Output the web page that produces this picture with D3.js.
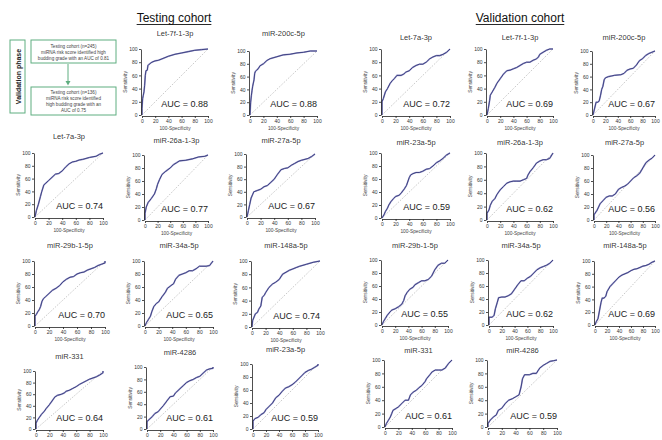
<!DOCTYPE html>
<html>
<head>
<meta charset="utf-8">
<script src="https://cdn.jsdelivr.net/npm/d3@7"></script>
<style>
  body { margin: 0; background: #fff; }
  svg { font-family: "Liberation Sans", Arial, sans-serif; }
</style>
</head>
<body>
<svg id="chart"></svg>
<script>
// ---- data: ROC points as [100-specificity, sensitivity] ----
const ticks = [0, 20, 40, 60, 80, 100];

const testingNames = ["Let-7f-1-3p", "miR-200c-5p", "Let-7a-3p", "miR-26a-1-3p", "miR-27a-5p",
  "miR-29b-1-5p", "miR-34a-5p", "miR-148a-5p", "miR-331", "miR-4286", "miR-23a-5p"];
const testingAUC = ["0.88", "0.88", "0.74", "0.77", "0.67", "0.70", "0.65", "0.74", "0.64", "0.61", "0.59"];

const validationNames = ["Let-7a-3p", "Let-7f-1-3p", "miR-200c-5p", "miR-23a-5p", "miR-26a-1-3p",
  "miR-27a-5p", "miR-29b-1-5p", "miR-34a-5p", "miR-148a-5p", "miR-331", "miR-4286"];
const validationAUC = ["0.72", "0.69", "0.67", "0.59", "0.62", "0.56", "0.55", "0.62", "0.69", "0.61", "0.59"];

const tLet7f = [[0,0],[0,10],[1,25],[2,30],[3,35],[4,45],[5,60],[6,67],[8,68],[9,75],[11,77],[15,80],[20,82],[25,83],[30,85],[40,89],[50,92],[60,94],[70,96],[80,98],[90,99],[100,100]];
const tMiR200c = [[0,0],[1,20],[2,30],[3,38],[4,45],[6,55],[7,65],[8,68],[10,70],[12,72],[15,77],[20,80],[25,85],[30,88],[40,91],[50,94],[60,95],[70,97],[80,98],[90,100],[100,100]];
const tLet7a = [[0,0],[2,10],[5,20],[8,32],[10,40],[13,50],[16,53],[20,57],[25,62],[30,67],[35,68],[40,72],[45,78],[50,83],[55,86],[60,87],[65,89],[70,90],[80,93],[90,95],[95,98],[100,100]];
const tMiR26a = [[0,0],[0,10],[2,20],[5,27],[10,33],[15,40],[18,48],[20,55],[23,62],[27,70],[33,75],[40,80],[45,85],[50,88],[55,91],[65,92],[75,94],[85,97],[95,98],[100,100]];
const tMiR27a = [[0,0],[2,10],[4,20],[6,30],[8,35],[10,40],[15,42],[20,44],[25,48],[30,50],[35,55],[40,60],[45,68],[50,75],[55,77],[60,78],[65,82],[70,85],[75,88],[80,90],[90,93],[95,96],[100,100]];
const tMiR29b = [[0,0],[0,15],[2,18],[4,22],[6,25],[8,30],[10,38],[12,42],[15,45],[20,50],[25,55],[30,58],[35,62],[40,68],[45,72],[50,75],[55,76],[60,80],[65,82],[70,83],[75,86],[80,88],[85,90],[90,93],[95,95],[100,97],[100,100]];
const tMiR34a = [[0,0],[2,5],[5,10],[8,15],[10,22],[13,30],[17,35],[20,37],[25,45],[30,52],[33,58],[38,62],[42,65],[45,72],[50,78],[55,80],[60,82],[65,85],[70,85],[75,88],[80,92],[90,92],[95,93],[100,100]];
const tMiR148a = [[0,0],[1,10],[3,15],[5,20],[8,22],[10,27],[13,32],[15,45],[18,48],[20,52],[25,60],[30,65],[35,68],[40,72],[45,80],[50,83],[55,86],[60,88],[65,90],[70,92],[80,95],[90,98],[100,100]];
const tMiR331 = [[0,0],[0,10],[2,15],[5,20],[8,25],[12,30],[15,35],[20,42],[25,50],[28,55],[32,58],[38,60],[42,62],[45,65],[50,67],[55,70],[60,73],[65,77],[70,80],[75,83],[80,86],[85,88],[90,90],[95,93],[100,97],[100,100]];
const tMiR4286 = [[0,0],[0,12],[3,15],[8,20],[12,25],[17,28],[20,32],[25,38],[30,45],[35,52],[40,53],[43,58],[47,62],[50,65],[55,70],[60,75],[65,78],[70,80],[75,83],[80,85],[85,90],[90,95],[95,97],[100,98],[100,100]];
const tMiR23a = [[0,0],[0,12],[3,16],[8,18],[12,22],[17,25],[20,30],[25,35],[30,40],[35,48],[40,52],[45,58],[50,63],[55,65],[60,68],[65,72],[70,77],[75,82],[80,87],[85,90],[90,92],[95,95],[100,98],[100,100]];

const vLet7a = [[0,0],[0,20],[2,25],[5,35],[8,40],[12,48],[15,52],[18,55],[22,60],[28,60],[32,62],[35,65],[40,67],[45,72],[50,75],[55,77],[60,77],[65,80],[70,85],[75,88],[80,90],[85,90],[90,92],[95,95],[100,100]];
const vLet7f = [[0,0],[2,10],[4,22],[5,30],[8,35],[12,42],[15,48],[20,55],[25,62],[30,67],[35,68],[40,70],[45,72],[50,75],[55,78],[60,80],[65,80],[70,83],[75,85],[78,88],[80,92],[85,95],[90,98],[95,100],[100,100]];
const vMiR200c = [[0,0],[5,20],[8,20],[10,22],[12,30],[14,40],[16,45],[18,55],[20,58],[25,60],[30,61],[35,62],[45,63],[50,65],[55,70],[60,72],[65,73],[70,78],[75,85],[80,88],[85,93],[90,96],[95,98],[100,100]];
const vMiR23a = [[0,0],[3,5],[5,10],[8,15],[10,20],[13,25],[17,30],[20,33],[25,35],[28,38],[33,45],[36,50],[40,62],[42,66],[45,68],[50,70],[55,70],[60,72],[65,75],[70,76],[75,80],[80,85],[85,88],[90,92],[95,97],[100,100]];
const vMiR26a = [[0,0],[0,10],[3,15],[5,22],[8,28],[12,32],[15,38],[20,45],[25,50],[30,55],[35,57],[40,58],[45,58],[50,58],[55,60],[60,62],[62,67],[65,72],[70,78],[75,85],[80,88],[85,90],[90,90],[95,92],[100,100]];
const vMiR27a = [[0,0],[0,8],[5,15],[10,25],[15,30],[20,35],[25,37],[30,37],[35,40],[40,47],[45,50],[50,52],[55,55],[60,60],[65,65],[70,68],[75,72],[80,80],[85,88],[90,92],[95,95],[100,100]];
const vMiR29b = [[0,0],[2,5],[5,10],[8,15],[12,20],[15,23],[20,25],[25,28],[30,32],[33,38],[35,45],[38,50],[42,55],[47,58],[50,62],[55,65],[60,68],[65,68],[70,70],[75,75],[80,85],[85,92],[90,95],[95,95],[100,100]];
const vMiR34a = [[0,0],[0,12],[5,12],[8,15],[10,25],[13,35],[15,42],[20,43],[25,43],[30,45],[35,48],[40,55],[45,62],[50,68],[55,68],[60,72],[65,75],[70,80],[75,85],[80,88],[85,90],[90,92],[95,95],[100,100]];
const vMiR148a = [[0,0],[2,5],[5,10],[8,25],[10,35],[12,42],[15,42],[18,45],[20,52],[25,60],[30,65],[35,70],[40,75],[45,78],[50,80],[55,82],[60,85],[65,87],[70,88],[75,90],[80,92],[85,93],[90,95],[95,98],[100,100]];
const vMiR331 = [[0,0],[2,5],[5,10],[8,15],[10,20],[12,25],[17,28],[20,30],[25,35],[30,40],[35,40],[38,48],[42,52],[47,55],[50,58],[55,62],[60,68],[62,72],[67,78],[70,82],[75,85],[80,85],[85,85],[90,88],[95,95],[100,100]];
const vMiR4286 = [[0,0],[0,5],[3,10],[8,15],[12,18],[15,25],[20,28],[25,35],[30,40],[35,42],[40,45],[45,48],[48,60],[50,72],[53,78],[60,78],[65,80],[70,80],[75,88],[80,92],[85,95],[90,98],[95,99],[100,100]];

const testingCurves = [tLet7f, tMiR200c, tLet7a, tMiR26a, tMiR27a, tMiR29b, tMiR34a, tMiR148a, tMiR331, tMiR4286, tMiR23a];
const validationCurves = [vLet7a, vLet7f, vMiR200c, vMiR23a, vMiR26a, vMiR27a, vMiR29b, vMiR34a, vMiR148a, vMiR331, vMiR4286];

const flowTop = ["Testing cohort (n=245)", "miRNA risk score identified high", "budding grade with an AUC of 0.81"];
const flowBottom = ["Testing cohort (n=136)", "miRNA risk score identified", "high budding grade with an", "AUC of 0.75"];

// ---- layout: plot boxes in page pixels ----
const testingBoxes = [
  { x0: 142, x1: 208, y0: 49, y1: 115, ty: 36 },
  { x0: 250, x1: 317, y0: 51, y1: 115, ty: 36 },
  { x0: 35, x1: 103, y0: 153, y1: 217, ty: 139 },
  { x0: 145, x1: 208, y0: 155, y1: 220, ty: 143 },
  { x0: 247, x1: 315, y0: 154, y1: 217, ty: 143 },
  { x0: 35, x1: 105, y0: 261, y1: 326, ty: 248 },
  { x0: 145, x1: 213, y0: 261, y1: 326, ty: 248 },
  { x0: 252, x1: 320, y0: 261, y1: 327, ty: 248 },
  { x0: 36, x1: 103, y0: 371, y1: 429, ty: 359 },
  { x0: 147, x1: 213, y0: 367, y1: 429, ty: 355 },
  { x0: 253, x1: 318, y0: 364, y1: 429, ty: 352 }
];
const validationBoxes = [
  { x0: 382, x1: 450, y0: 49, y1: 115, ty: 40 },
  { x0: 487, x1: 553, y0: 49, y1: 115, ty: 40 },
  { x0: 593, x1: 655, y0: 51, y1: 115, ty: 40 },
  { x0: 382, x1: 450, y0: 153, y1: 218, ty: 145 },
  { x0: 487, x1: 553, y0: 153, y1: 220, ty: 145 },
  { x0: 594, x1: 655, y0: 155, y1: 220, ty: 145 },
  { x0: 382, x1: 448, y0: 260, y1: 325, ty: 248 },
  { x0: 489, x1: 553, y0: 260, y1: 325, ty: 248 },
  { x0: 595, x1: 655, y0: 261, y1: 325, ty: 248 },
  { x0: 385, x1: 452, y0: 360, y1: 427, ty: 353 },
  { x0: 488, x1: 557, y0: 360, y1: 427, ty: 353 }
];

const width = 662, height = 440;
const svg = d3.select("#chart").attr("width", width).attr("height", height);

function drawPanel(curve, name, auc, b) {
  const g = svg.append("g");
  const x = d3.scaleLinear().domain([0, 100]).range([b.x0, b.x1]);
  const y = d3.scaleLinear().domain([0, 100]).range([b.y1, b.y0]);

  // reference diagonal
  g.append("line")
    .attr("x1", x(0)).attr("y1", y(0)).attr("x2", x(100)).attr("y2", y(100))
    .attr("stroke", "#9a9a9a").attr("stroke-width", 0.7).attr("stroke-dasharray", "1,1.5");

  const line = d3.line().x(d => x(d[0])).y(d => y(d[1]));
  g.append("path").datum(curve)
    .attr("d", line).attr("fill", "none")
    .attr("stroke", "#9c9ccc").attr("stroke-width", 1.6);
  g.append("path").datum(curve)
    .attr("d", line).attr("fill", "none")
    .attr("stroke", "#35397a").attr("stroke-width", 0.9);

  const xa = g.append("g")
    .attr("transform", `translate(0, ${b.y1 + 1})`)
    .call(d3.axisBottom(x).tickValues(ticks).tickSize(2).tickSizeOuter(0).tickPadding(1.5));
  const ya = g.append("g")
    .attr("transform", `translate(${b.x0 - 1}, 0)`)
    .call(d3.axisLeft(y).tickValues(ticks).tickSize(2).tickSizeOuter(0).tickPadding(1.5));
  [xa, ya].forEach(a => {
    a.attr("font-size", "5px").attr("font-family", "Liberation Sans, Arial, sans-serif");
    a.selectAll("text").attr("fill", "#333");
    a.selectAll("path, line").attr("stroke", "#222").attr("stroke-width", 0.8);
  });

  g.append("text")
    .attr("transform", `translate(${b.x0 - 15}, ${(b.y0 + b.y1) / 2}) rotate(-90)`)
    .attr("text-anchor", "middle").attr("font-size", "4.8px").attr("fill", "#444")
    .text("Sensitivity");
  // bottom row is cropped in the original, its x label falls off the page
  if (b.y1 + 15 < height - 2) {
    g.append("text")
      .attr("x", (b.x0 + b.x1) / 2).attr("y", b.y1 + 15)
      .attr("text-anchor", "middle").attr("font-size", "4.8px").attr("fill", "#444")
      .text("100-Specificity");
  }

  g.append("text")
    .attr("x", (b.x0 + b.x1) / 2).attr("y", b.ty)
    .attr("text-anchor", "middle").attr("font-size", "7.5px").attr("fill", "rgba(40,40,40,0.95)")
    .text(name);

  g.append("text")
    .attr("x", b.x1).attr("y", b.y1 - 8)
    .attr("text-anchor", "end").attr("font-size", "9px").attr("fill", "#222")
    .text(`AUC = ${auc}`);
}

testingCurves.forEach((c, i) => drawPanel(c, testingNames[i], testingAUC[i], testingBoxes[i]));
validationCurves.forEach((c, i) => drawPanel(c, validationNames[i], validationAUC[i], validationBoxes[i]));

// section headers, underlined
[["Testing cohort", 174], ["Validation cohort", 520]].forEach(([label, cx]) => {
  const t = svg.append("text")
    .attr("x", cx).attr("y", 22).attr("text-anchor", "middle")
    .attr("font-size", "12px").attr("fill", "#111").text(label);
  const w = t.node().getComputedTextLength();
  svg.append("line")
    .attr("x1", cx - w / 2).attr("x2", cx + w / 2).attr("y1", 24.5).attr("y2", 24.5)
    .attr("stroke", "#111").attr("stroke-width", 0.9);
});

// flow diagram
const green = "#5fae80";
const flow = svg.append("g");
flow.append("rect").attr("x", 10).attr("y", 40).attr("width", 15).attr("height", 73)
  .attr("fill", "#fff").attr("stroke", green).attr("stroke-width", 1);
flow.append("text")
  .attr("transform", "translate(20.5, 76.5) rotate(-90)")
  .attr("text-anchor", "middle").attr("font-size", "7px").attr("font-weight", "bold").attr("fill", "#222")
  .text("Validation phase");
flow.append("rect").attr("x", 31).attr("y", 40).attr("width", 85).attr("height", 23)
  .attr("fill", "#fff").attr("stroke", green).attr("stroke-width", 1);
flow.append("rect").attr("x", 31).attr("y", 87).attr("width", 85).attr("height", 28)
  .attr("fill", "#fff").attr("stroke", green).attr("stroke-width", 1);
flow.append("line").attr("x1", 68).attr("x2", 68).attr("y1", 64).attr("y2", 82)
  .attr("stroke", green).attr("stroke-width", 1);
flow.append("path").attr("d", "M65.5,81 L70.5,81 L68,85.5 Z").attr("fill", green);
flow.selectAll(".ft").data(flowTop).join("text")
  .attr("x", 73.5).attr("y", (d, i) => 48 + i * 6)
  .attr("text-anchor", "middle").attr("font-size", "4.6px").attr("fill", "#444").text(d => d);
flow.selectAll(".fb").data(flowBottom).join("text")
  .attr("x", 73.5).attr("y", (d, i) => 94 + i * 6)
  .attr("text-anchor", "middle").attr("font-size", "4.6px").attr("fill", "#444").text(d => d);
</script>
</body>
</html>
